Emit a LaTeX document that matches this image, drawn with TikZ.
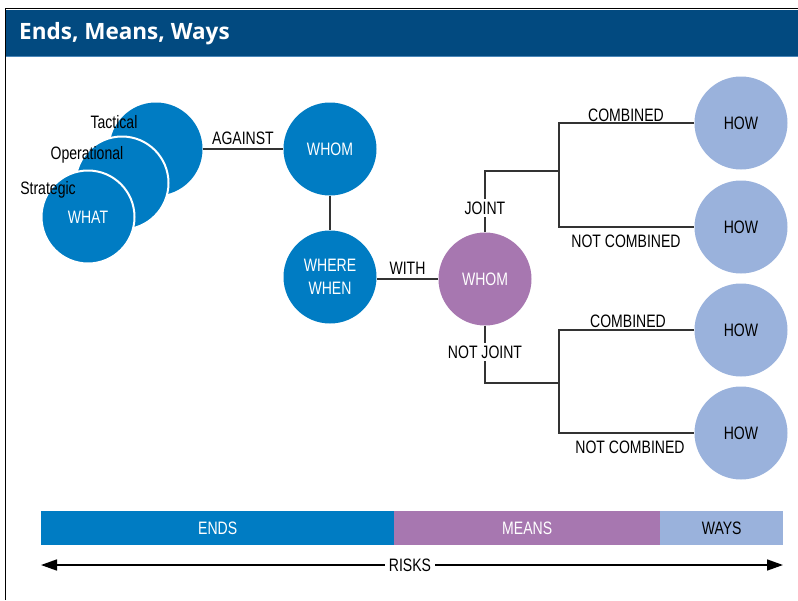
\documentclass[tikz,border=0pt]{standalone}
\usepackage{fontspec}
\setmainfont{Liberation Sans}[FakeStretch=0.78]
\newfontfamily\titlefont{Open Sans}
\usetikzlibrary{arrows.meta}
\definecolor{cblue}{HTML}{007CC3}
\definecolor{cpurple}{HTML}{A777B0}
\definecolor{clight}{HTML}{9AB2DC}
\definecolor{chead}{HTML}{024A80}
\definecolor{cheadline}{HTML}{4A86B8}
\definecolor{cline}{HTML}{333333}
\begin{document}
\begin{tikzpicture}[x=1pt,y=-1pt,
  lbl/.style={font=\fontsize{18}{22}\selectfont, inner sep=1pt, text=black},
  ball/.style={circle, minimum size=93pt, inner sep=0pt, font=\fontsize{18}{23}\selectfont, align=center},
  bluec/.style={ball, fill=cblue, text=white},
  purc/.style={ball, fill=cpurple, text=white},
  lightc/.style={ball, fill=clight, text=black},
  conn/.style={draw=cline, line width=1.2pt},
  barbox/.style={minimum height=34pt, inner sep=0pt, font=\fontsize{18}{22}\selectfont, anchor=north west}
]
\useasboundingbox (0,0) rectangle (798,600);
% frame and header
\fill[chead] (6,9.5) rectangle (798,56);
\draw[cheadline, line width=1.2pt] (6,56.5) -- (798,56.5);
\draw[black, line width=1.2pt] (5.5,600) -- (5.5,8.5) -- (798,8.5);
\node[anchor=west, text=white, font=\titlefont\bfseries\fontsize{22.5}{26}\selectfont, inner sep=0pt] (title) at (19,33.5) {Ends, Means, Ways};

% WHAT stack
\node[bluec] (tact) at (156,149) {};
\node[bluec, draw=white, line width=2pt] (oper) at (122,183) {};
\node[bluec, draw=white, line width=2pt] (what) at (88,217) {WHAT};
\node[lbl] (ltact) at (114,122) {Tactical};
\node[lbl] (loper) at (87,155) {Operational};
\node[lbl] (lstrat) at (48,190) {Strategic};

% main nodes
\node[bluec] (whom) at (330,149) {WHOM};
\node[bluec] (ww) at (330,277) {WHERE\\WHEN};
\node[purc] (pw) at (485,279) {WHOM};
\node[lightc] (how1) at (741,123) {HOW};
\node[lightc] (how2) at (741,227) {HOW};
\node[lightc] (how3) at (741,330) {HOW};
\node[lightc] (how4) at (741,433) {HOW};

% connectors
\draw[conn] (tact.east) -- node[lbl, above=3pt] {AGAINST} (tact.east -| whom.west);
\draw[conn] (whom) -- (ww);
\draw[conn] (ww.east |- pw.west) -- node[lbl, above=3pt] {WITH} (pw.west);

\coordinate (j1) at (485,171);
\coordinate (j2) at (559,171);
\coordinate (n1) at (485,383);
\coordinate (n2) at (559,383);

\draw[conn] (pw) -- (j1) -- (j2);
\draw[conn] (how1.west) -| (j2) |- (how2.west);
\node[lbl, fill=white, inner sep=3pt] (ljoint) at (485,208) {JOINT};
\node[lbl, above=1pt] (c1) at (626,124) {COMBINED};
\node[lbl, below=7pt] (nc1) at (626,227) {NOT COMBINED};

\draw[conn] (pw) -- (n1) -- (n2);
\draw[conn] (how3.west) -| (n2) |- (how4.west);
\node[lbl, fill=white, inner sep=3pt] (lnjoint) at (485,352) {NOT JOINT};
\node[lbl, above=1pt] (c2) at (628,330) {COMBINED};
\node[lbl, below=7pt] (nc2) at (630,433) {NOT COMBINED};

% bars
\node[barbox, fill=cblue, text=white, minimum width=353pt] (ends) at (41,511) {ENDS};
\node[barbox, fill=cpurple, text=white, minimum width=266pt] (means) at (394,511) {MEANS};
\node[barbox, fill=clight, text=black, minimum width=123pt] (ways) at (660,511) {WAYS};

% risks arrow
\coordinate (ra) at (41,565);
\coordinate (rb) at (783,565);
\draw[line width=1.6pt, {Triangle[length=16pt,width=11pt]}-{Triangle[length=16pt,width=11pt]}] (ra) -- (rb);
\node[lbl, fill=white, inner sep=4pt] (risks) at (410,565) {RISKS};
\end{tikzpicture}
\end{document}
